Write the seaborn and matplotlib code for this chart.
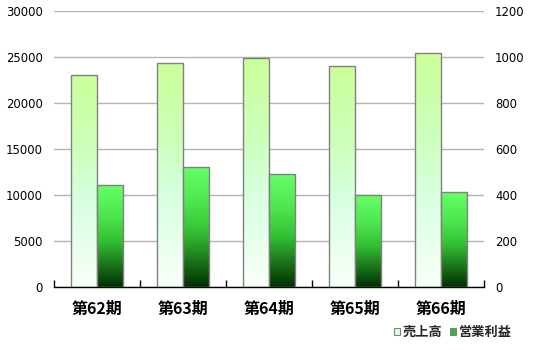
import numpy as np
import pandas as pd
import matplotlib
matplotlib.use("Agg")
import matplotlib.pyplot as plt
from matplotlib.colors import LinearSegmentedColormap
from matplotlib.patches import Patch
import seaborn as sns

periods = ["第62期", "第63期", "第64期", "第65期", "第66期"]
sales = [23050, 24350, 24900, 24050, 25450]
profit = [443, 523, 491, 400, 413]
series_names = ["売上高", "営業利益"]
left_ticks = [0, 5000, 10000, 15000, 20000, 25000, 30000]
right_ticks = [0, 200, 400, 600, 800, 1000, 1200]

sns.set_theme(style="white")
plt.rcParams['font.family'] = ['Noto Sans CJK JP', 'DejaVu Sans']

df = pd.concat([
    pd.DataFrame({"period": periods, "value": sales, "series": series_names[0]}),
    pd.DataFrame({"period": periods, "value": profit, "series": series_names[1]}),
], ignore_index=True)

fig = plt.figure(figsize=(5.33, 3.5), dpi=100)
ax = fig.add_axes([54/533, 1-287.3/350, 430/533, 276/350])
ax2 = ax.twinx()

# same dodged layout on both axes; each axis keeps only its own series
for axis in (ax, ax2):
    sns.barplot(data=df, x="period", y="value", hue="series", hue_order=series_names,
                order=periods, width=0.6, gap=0, ax=axis, legend=False,
                edgecolor="#808080", linewidth=1.0)

def keep_side(axis, left):
    for p in list(axis.patches):
        cx = p.get_x() + p.get_width() / 2
        is_left = (cx - round(cx)) < 0
        if is_left != left:
            p.remove()

keep_side(ax, True)
keep_side(ax2, False)

light_cmap = LinearSegmentedColormap.from_list(
    "light", [(0.0, "#f8fff8"), (0.4, "#d8ffe0"), (0.65, "#ccffbb"), (1.0, "#ccff99")])
dark_cmap = LinearSegmentedColormap.from_list(
    "dark", [(0.0, "#003000"), (0.2, "#1a6e1a"), (0.45, "#33c033"), (0.7, "#4ee64e"), (1.0, "#66ff66")])

grad = np.linspace(0, 1, 256).reshape(-1, 1)

def fill_gradient(axis, cmap):
    for p in list(axis.patches):
        x0, y0 = p.get_x(), p.get_y()
        w, h = p.get_width(), p.get_height()
        if h <= 0:
            continue
        p.set_facecolor("none")
        im = axis.imshow(grad, cmap=cmap, origin="lower", aspect="auto",
                         extent=(x0, x0 + w, y0, y0 + h), zorder=p.get_zorder() - 0.1,
                         interpolation="bilinear")
        im.set_clip_path(p)

ax.set_xlim(-0.5, 4.5)
ax.set_ylim(0, 30000)
ax2.set_ylim(0, 1200)
fill_gradient(ax, light_cmap)
fill_gradient(ax2, dark_cmap)
ax.set_xlim(-0.5, 4.5)
ax.set_ylim(0, 30000)
ax2.set_ylim(0, 1200)

ax.set_yticks(left_ticks)
ax.set_yticklabels([str(v) for v in left_ticks], family="DejaVu Sans", fontsize=8.4, color="black")
ax2.set_yticks(right_ticks)
ax2.set_yticklabels([str(v) for v in right_ticks], family="DejaVu Sans", fontsize=8.4, color="black")
ax.tick_params(axis="y", length=0, pad=8)
ax2.tick_params(axis="y", length=0, pad=8)

ax.set_xticks(range(len(periods)))
ax.set_xticklabels(periods, fontsize=11.5, fontweight="bold", color="black")
ax.set_xticks(np.arange(-0.5, 5, 1.0), minor=True)
ax.tick_params(axis="x", which="major", length=0, pad=10)
ax.tick_params(axis="x", which="minor", direction="in", length=5, width=1, color="black", bottom=True)

ax.set_xlabel("")
ax.set_ylabel("")
ax2.set_ylabel("")
ax.yaxis.grid(True, color="#b4b4b4", linewidth=1)
ax.xaxis.grid(False)
ax.set_axisbelow(True)
for s in ["top", "left", "right"]:
    ax.spines[s].set_visible(False)
    ax2.spines[s].set_visible(False)
ax.spines["bottom"].set_color("black")
ax.spines["bottom"].set_linewidth(1)
ax2.spines["bottom"].set_visible(False)
ax.patch.set_visible(False)

handles = [Patch(facecolor="#ddffdd", edgecolor="#808080", linewidth=0.8),
           Patch(facecolor="#33bb33", edgecolor="#808080", linewidth=0.8)]
fig.legend(handles, series_names, loc="center right", bbox_to_anchor=(512/533, 1-332/350),
           frameon=False, ncol=2, handlelength=0.45, handleheight=0.45, handletextpad=0.2,
           columnspacing=0.6, borderaxespad=0, borderpad=0,
           prop={"family": ["Noto Sans CJK JP", "DejaVu Sans"], "size": 9.5, "weight": "bold"})

fig.savefig("out.png", dpi=100)
